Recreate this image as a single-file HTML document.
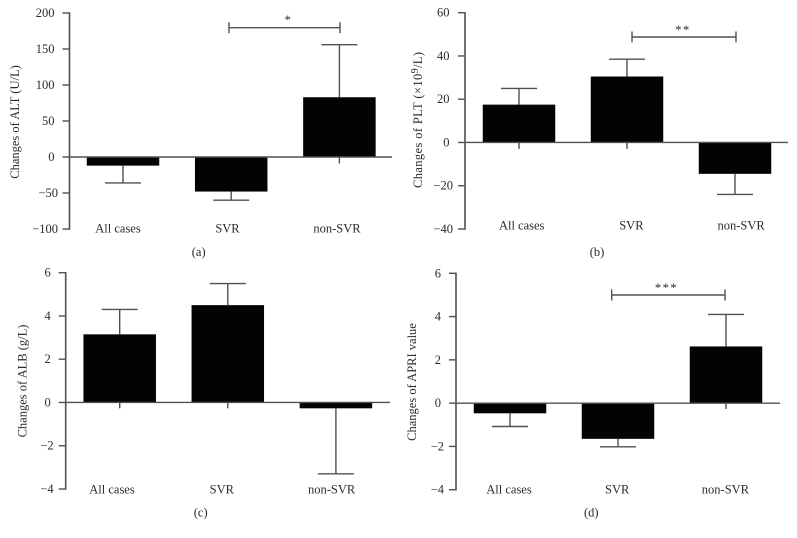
<!DOCTYPE html>
<html>
<head>
<meta charset="utf-8">
<title>Changes of ALT, PLT, ALB and APRI</title>
<style>
html,body{margin:0;padding:0;background:#fff;}
svg{display:block;font-family:"Liberation Serif",serif;}
text{fill:#2b2b2b;font-size:12.5px;}
</style>
</head>
<body>
<svg id="figure" width="797" height="538" viewBox="0 0 797 538" xmlns="http://www.w3.org/2000/svg">
  <g id="panel-a">
    <text transform="translate(19 122) rotate(-90)" text-anchor="middle">Changes of ALT (U/L)</text>
    <text x="198.7" y="256" text-anchor="middle">(a)</text>
  </g>
  <g id="panel-b">
    <text transform="translate(422 120) rotate(-90)" text-anchor="middle" textLength="136">Changes of PLT (×10<tspan dy="-4" font-size="10">9</tspan><tspan dy="4">/L)</tspan></text>
    <text x="597" y="256" text-anchor="middle">(b)</text>
  </g>
  <g id="panel-c">
    <text transform="translate(26.5 381) rotate(-90)" text-anchor="middle">Changes of ALB (g/L)</text>
    <text x="200.7" y="516.5" text-anchor="middle">(c)</text>
  </g>
  <g id="panel-d">
    <text transform="translate(416 382) rotate(-90)" text-anchor="middle">Changes of APRI value</text>
    <text x="591.3" y="516.5" text-anchor="middle">(d)</text>
  </g>
</svg>
<script>
const categories = ['All cases', 'SVR', 'non-SVR'];

const altValues = [-12, -48, 83];
const altErrors = [-36, -60, 156];
const altStubs = [null, null, -9];
const altTicks = [200, 150, 100, 50, 0, -50, -100];

const pltValues = [17.5, 30.5, -14.5];
const pltErrors = [25, 38.5, -24];
const pltStubs = [-3, -3, null];
const pltTicks = [60, 40, 20, 0, -20, -40];

const albValues = [3.15, 4.5, -0.27];
const albErrors = [4.3, 5.5, -3.3];
const albStubs = [-0.27, -0.27, null];
const albTicks = [6, 4, 2, 0, -2, -4];

const apriValues = [-0.47, -1.65, 2.62];
const apriErrors = [-1.08, -2.02, 4.1];
const apriStubs = [null, null, -0.27];
const apriTicks = [6, 4, 2, 0, -2, -4];

const NS = 'http://www.w3.org/2000/svg';
const LINE = '#505050';

function mk(parent, tag, attrs, text) {
  const el = document.createElementNS(NS, tag);
  for (const k in attrs) el.setAttribute(k, attrs[k]);
  if (text !== undefined) el.textContent = text;
  parent.appendChild(el);
  return el;
}

function line(parent, x1, y1, x2, y2, width) {
  return mk(parent, 'line', {x1: x1, y1: y1, x2: x2, y2: y2, stroke: LINE, 'stroke-width': width || 1.4});
}

function drawPanel(p) {
  const g = document.getElementById(p.id);
  const span = p.ticks[0] - p.ticks[p.ticks.length - 1];
  const y = function (v) {
    return p.yTop + (p.ticks[0] - v) * (p.yBottom - p.yTop) / span;
  };
  const cx = function (i) {
    return p.barStart + i * p.barStep;
  };

  // error bars and stubs sit under the bars
  p.values.forEach(function (v, i) {
    const err = line(g, cx(i), y(v), cx(i), y(p.errors[i]));
    
    
    const cap = line(g, cx(i) - 18, y(p.errors[i]), cx(i) + 18, y(p.errors[i]));
    
    
    if (p.stubs[i] !== null) {
      const stub = line(g, cx(i), y(0), cx(i), y(p.stubs[i]));
      
      
    }
  });

  // bars
  p.values.forEach(function (v, i) {
    const top = Math.min(y(v), y(0));
    const bar = mk(g, 'rect', {
      x: cx(i) - p.barWidth / 2,
      y: top,
      width: p.barWidth,
      height: Math.abs(y(v) - y(0)),
      fill: '#030303'
    });
    
    
  });

  // y axis
  const yAxis = line(g, p.axisX, p.yTop - 0.7, p.axisX, p.yBottom + 0.7, 1.6);
  
  

  // zero line
  const zero = line(g, p.axisX, y(0), p.axisEnd, y(0), 1.4);
  
  

  // ticks
  p.ticks.forEach(function (t) {
    const tick = line(g, p.axisX - 7, y(t), p.axisX, y(t), 1.4);
    
    
    const label = mk(g, 'text', {
      x: p.tickRight + (t < 0 ? p.negShift : 0),
      y: y(t) + 4,
      'text-anchor': 'end'
    }, (t < 0 ? '\u2212' : '') + Math.abs(t));
    
    
  });

  // category labels
  categories.forEach(function (c, i) {
    const label = mk(g, 'text', {
      x: p.labelStart + i * p.labelStep,
      y: p.labelY + 4,
      'text-anchor': 'middle'
    }, c);
    
    
  });

  // significance bracket
  if (p.bracket) {
    const b = p.bracket;
    const bracketGroup = mk(g, 'g', {});
    
    
    line(bracketGroup, b.x1, b.y, b.x2, b.y);
    line(bracketGroup, b.x1, b.y - 5.5, b.x1, b.y + 5.5);
    line(bracketGroup, b.x2, b.y - 5.5, b.x2, b.y + 5.5);
    const stars = mk(g, 'text', {
      x: b.starX,
      y: b.starY,
      'text-anchor': 'middle',
      'letter-spacing': '1.5'
    }, b.stars);
    
    
  }
}

drawPanel({
  id: 'panel-a', values: altValues, errors: altErrors, stubs: altStubs, ticks: altTicks,
  yTop: 13, yBottom: 229, axisX: 69.5, axisEnd: 392,
  barStart: 123, barStep: 108.2, barWidth: 72.5,
  tickRight: 54.5, negShift: 3.5, labelStart: 118, labelStep: 109.5, labelY: 228.7,
  bracket: {x1: 229, x2: 340, y: 27.7, stars: '*', starX: 288.5, starY: 24}
});
drawPanel({
  id: 'panel-b', values: pltValues, errors: pltErrors, stubs: pltStubs, ticks: pltTicks,
  yTop: 12.7, yBottom: 229, axisX: 465, axisEnd: 788,
  barStart: 519, barStep: 108, barWidth: 72.5,
  tickRight: 449.5, negShift: 3.5, labelStart: 521.7, labelStep: 109.7, labelY: 225.7,
  bracket: {x1: 632, x2: 736, y: 37, stars: '**', starX: 683, starY: 34}
});
drawPanel({
  id: 'panel-c', values: albValues, errors: albErrors, stubs: albStubs, ticks: albTicks,
  yTop: 272.7, yBottom: 489, axisX: 65.7, axisEnd: 390,
  barStart: 119.7, barStep: 108.1, barWidth: 72.5,
  tickRight: 50.7, negShift: 3, labelStart: 112, labelStep: 109.8, labelY: 489.7,
  bracket: null
});
drawPanel({
  id: 'panel-d', values: apriValues, errors: apriErrors, stubs: apriStubs, ticks: apriTicks,
  yTop: 273.3, yBottom: 489.7, axisX: 456, axisEnd: 780,
  barStart: 510, barStep: 108, barWidth: 72.5,
  tickRight: 441, negShift: 3, labelStart: 509, labelStep: 108.2, labelY: 489.7,
  bracket: {x1: 611.7, x2: 725, y: 295, stars: '***', starX: 666.5, starY: 292}
});
</script>
</body>
</html>
